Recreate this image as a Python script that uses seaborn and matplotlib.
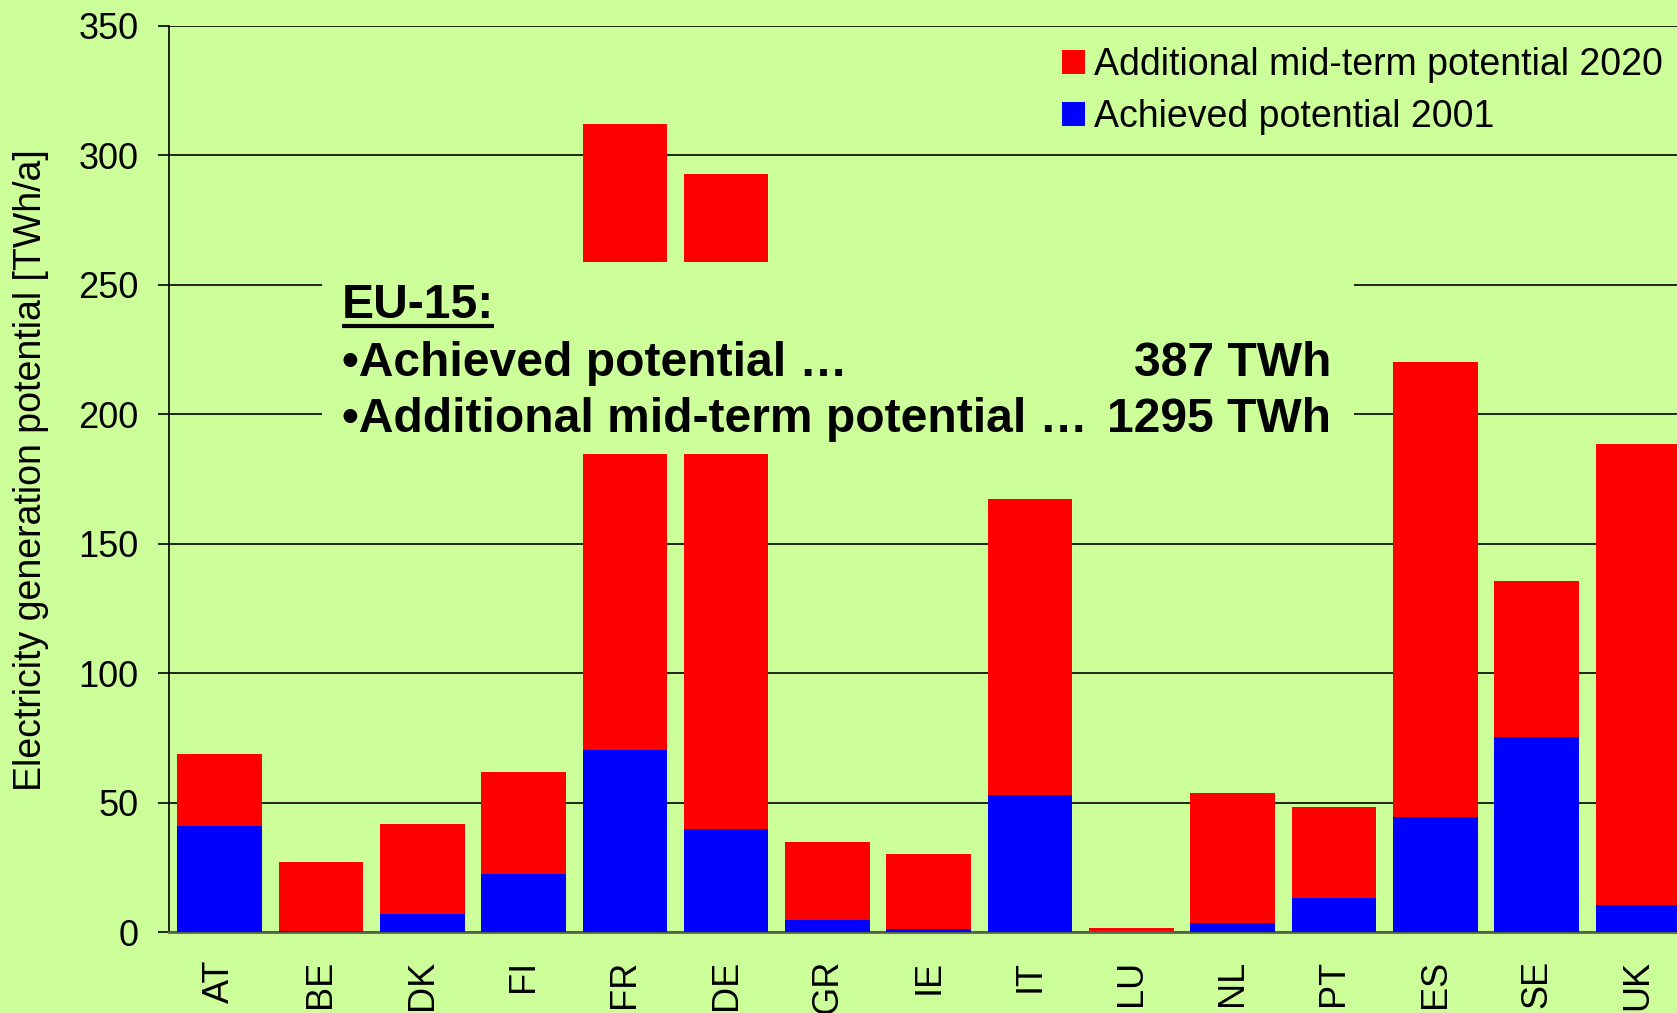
import matplotlib
matplotlib.use("Agg")
import matplotlib.pyplot as plt
from matplotlib.patches import Rectangle, Patch
from matplotlib.lines import Line2D
from matplotlib.ticker import FixedLocator, NullFormatter
import pandas as pd
import seaborn as sns

# Country codes (EU-15)
countries = ["AT", "BE", "DK", "FI", "FR", "DE", "GR", "IE", "IT",
             "LU", "NL", "PT", "ES", "SE", "UK"]
# Achieved electricity generation potential 2001 [TWh/a]
achieved_2001 = [40.9, 0.4, 7.0, 22.3, 70.2, 39.7, 4.5, 1.2, 52.9,
                 0.1, 3.3, 13.2, 44.6, 75.2, 10.3]
# Additional mid-term potential up to 2020 [TWh/a]
additional_2020 = [27.7, 26.5, 34.7, 39.3, 241.8, 252.9, 30.2, 29.0, 114.5,
                   1.6, 50.4, 35.1, 175.6, 60.3, 178.1]

series_labels = ["Additional mid-term potential 2020", "Achieved potential 2001"]
y_ticks = [0, 50, 100, 150, 200, 250, 300, 350]
y_label = "Electricity generation potential [TWh/a]"

summary_title = "EU-15:"
summary_items = ["\u2022Achieved potential \u2026",
                 "\u2022Additional mid-term potential \u2026"]
summary_values = ["387 TWh", "1295 TWh"]

BG = "#CCFF99"
RED = "#FF0000"
BLUE = "#0000FF"
AXIS_GREY = "#55664A"

sns.set_style("white")
plt.rcParams["font.family"] = ["Liberation Sans", "DejaVu Sans"]
plt.rcParams["text.color"] = "black"
plt.rcParams["axes.labelcolor"] = "black"
plt.rcParams["xtick.color"] = "black"
plt.rcParams["ytick.color"] = "black"

df = pd.DataFrame({
    "country": countries,
    "achieved": achieved_2001,
    "additional": additional_2020,
})
df["total"] = df["achieved"] + df["additional"]

W, H = 1677, 1013
fig = plt.figure(figsize=(W / 100, H / 100), dpi=100, facecolor=BG)

# axes rectangle in pixel units (extends past the right border)
ax_left, ax_right = 169.0, 1688.5
ax_top, ax_bottom = 25.7, 932.0
ax = fig.add_axes([ax_left / W, 1 - ax_bottom / H,
                   (ax_right - ax_left) / W, (ax_bottom - ax_top) / H])
ax.set_facecolor(BG)

# stacked bars: full height in red, achieved part in blue on top of it
sns.barplot(data=df, x="country", y="total", color=RED, saturation=1,
            width=0.835, errorbar=None, linewidth=0, ax=ax, zorder=2)
sns.barplot(data=df, x="country", y="achieved", color=BLUE, saturation=1,
            width=0.835, errorbar=None, linewidth=0, ax=ax, zorder=3)

ax.set_xlim(-0.5, len(countries) - 0.5)
ax.set_ylim(0, 350)
ax.set_yticks(y_ticks)
ax.set_yticklabels([str(v) for v in y_ticks])

# grid
ax.set_axisbelow(True)
ax.yaxis.grid(True, color="black", linewidth=1.2)
ax.xaxis.grid(False)

# spines
for side in ["top", "right"]:
    ax.spines[side].set_visible(False)
ax.spines["left"].set_color("black")
ax.spines["left"].set_linewidth(1.2)
ax.spines["bottom"].set_color(AXIS_GREY)
ax.spines["bottom"].set_linewidth(2.0)

# x ticks: labels at bar centres, tick marks between categories
ax.set_xticks(range(len(countries)))
ax.set_xticklabels(countries, rotation=90, va="top", ha="center")
ax.xaxis.set_minor_locator(FixedLocator([i - 0.5 for i in range(len(countries) + 1)]))
ax.xaxis.set_minor_formatter(NullFormatter())
ax.tick_params(axis="x", which="major", length=0, pad=20, labelsize=26,
               labelcolor="black")
ax.tick_params(axis="x", which="minor", length=8, width=1.2, color=AXIS_GREY)
ax.tick_params(axis="y", which="major", length=8, width=1.2, color="black",
               pad=14, labelsize=26, labelcolor="black", left=True)

ax.set_xlabel("")
ax.set_ylabel(y_label, fontsize=27, va="center", color="black")
ax.yaxis.set_label_coords((31 - ax_left) / (ax_right - ax_left),
                          (ax_bottom - 470) / (ax_bottom - ax_top))

# legend
handles = [Patch(facecolor=RED, edgecolor="none"),
           Patch(facecolor=BLUE, edgecolor="none")]
leg = ax.legend(handles, series_labels, loc="upper left",
                bbox_to_anchor=(1062 / W, 1 - 47 / H), bbox_transform=fig.transFigure,
                frameon=False, fontsize=27, handlelength=0.62, handleheight=0.62,
                handletextpad=0.22, labelspacing=0.43, borderpad=0, borderaxespad=0,
                labelcolor="black")

# summary box
box = Rectangle((321.5 / W, 1 - 454 / H), (1353.5 - 321.5) / W, (454 - 262) / H,
                transform=fig.transFigure, facecolor=BG, edgecolor="none",
                zorder=10, clip_on=False)
ax.add_patch(box)

text_kw = dict(fontsize=34.6, fontweight="bold", color="black", zorder=11,
               transform=fig.transFigure, va="baseline")
t_title = ax.text(342 / W, 1 - 318 / H, summary_title, ha="left", **text_kw)
baselines = [376, 432]
for item, val, yb in zip(summary_items, summary_values, baselines):
    ax.text(342 / W, 1 - yb / H, item, ha="left", **text_kw)
    ax.text(1331 / W, 1 - yb / H, val, ha="right", **text_kw)

# underline the title
fig.canvas.draw()
bb = t_title.get_window_extent(fig.canvas.get_renderer())
uy = 1 - 326 / H
ax.add_line(Line2D([bb.x0 / W, bb.x1 / W], [uy, uy], transform=fig.transFigure,
                   color="black", linewidth=3.0, zorder=11, clip_on=False,
                   solid_capstyle="butt"))

fig.savefig("out.png", dpi=100, facecolor=BG)
